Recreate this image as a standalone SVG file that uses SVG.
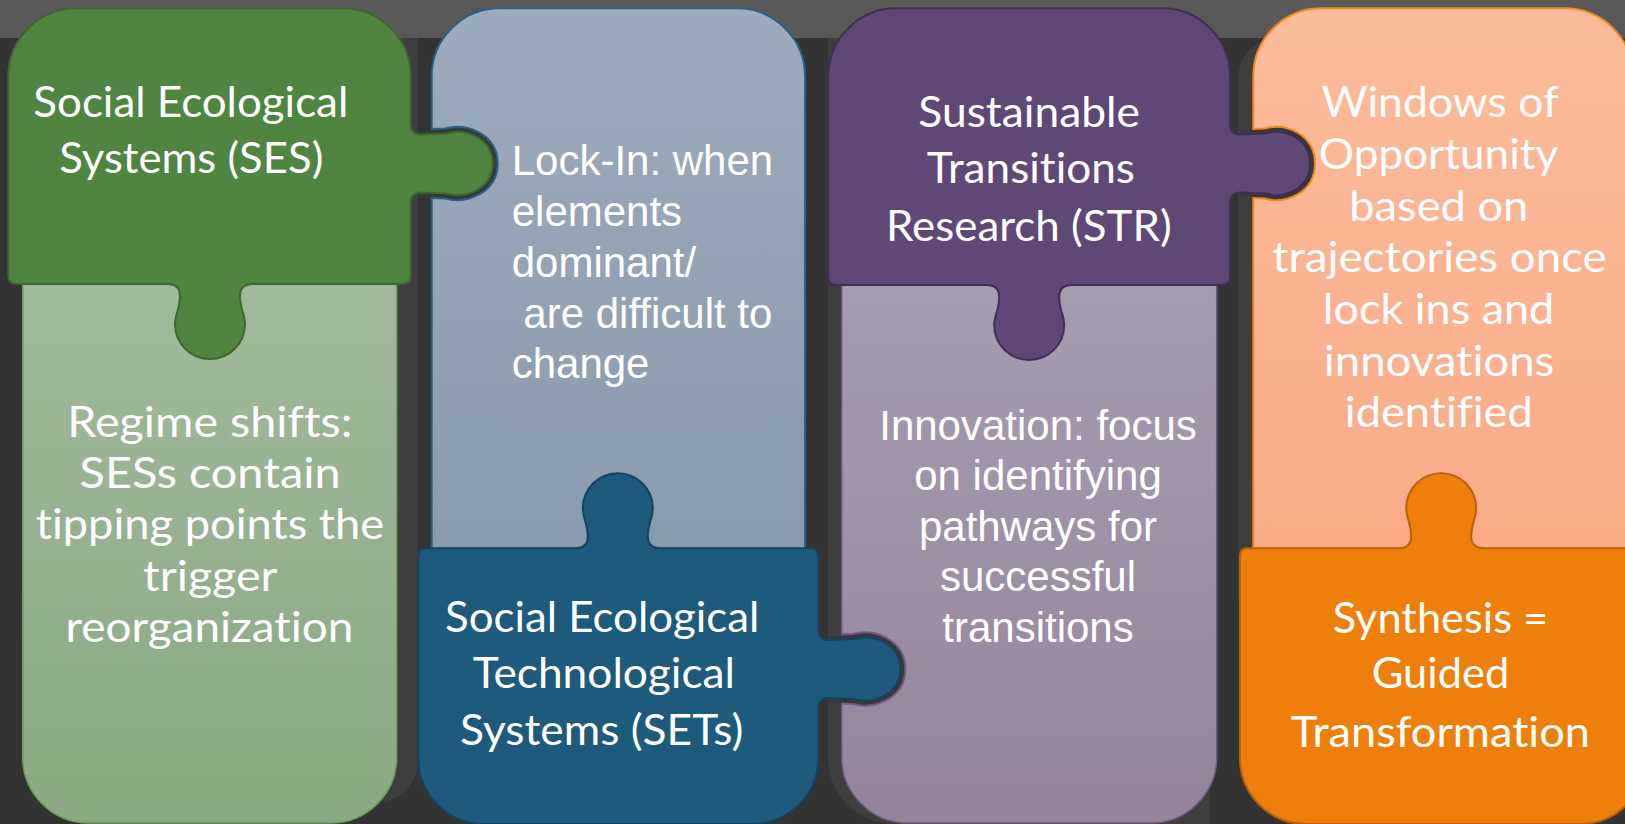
<svg xmlns="http://www.w3.org/2000/svg" width="1625" height="824" viewBox="0 0 1625 824">
<defs>
<linearGradient id="gLightGreen" x1="0" y1="0" x2="0" y2="1"><stop offset="0" stop-color="#a1ba9c"/><stop offset="1" stop-color="#8aa982"/></linearGradient>
<linearGradient id="gLightBlue" x1="0" y1="0" x2="0" y2="1"><stop offset="0" stop-color="#9cabbd"/><stop offset="1" stop-color="#8a9bad"/></linearGradient>
<linearGradient id="gLightPurple" x1="0" y1="0" x2="0" y2="1"><stop offset="0" stop-color="#a69db1"/><stop offset="1" stop-color="#93849c"/></linearGradient>
<linearGradient id="gPeach" x1="0" y1="0" x2="0" y2="1"><stop offset="0" stop-color="#fcbc9c"/><stop offset="1" stop-color="#f9ab87"/></linearGradient>
<clipPath id="clipBlue"><rect x="431.7" y="0" width="380" height="824"/></clipPath>
<clipPath id="clipPeach"><rect x="1253.3" y="0" width="380" height="824"/></clipPath>
<clipPath id="clipPurple"><rect x="841.7" y="0" width="380" height="824"/></clipPath>
</defs>
<style>
text{font-variant-ligatures:none;font-feature-settings:"liga" 0,"clig" 0}
.cal{font-family:Lato,"Liberation Sans",sans-serif;font-size:43px;fill:#ffffff}
.lato{font-family:Lato,"Liberation Sans",sans-serif;font-size:43px;fill:#ffffff}
.arial{font-family:"Liberation Sans",Arial,sans-serif;font-size:42px;fill:#ffffff}
.back{fill:#3e3e3e}
.sock{fill:none;stroke-linejoin:round}
</style>
<rect x="0" y="0" width="1625" height="824" fill="#333333"/>
<g id="backdrops">
<path class="back" d="M 60 38 L 418 38 L 418 762 A 40 40 0 0 1 378 802 L 60 802 Z"/>
<path class="back" d="M 828 38 L 1210 38 L 1210 824 L 894 824 A 66 66 0 0 1 828 758 Z"/>
<path class="back" d="M 1278 38 L 1640 38 L 1640 600 L 1238 600 L 1238 78 A 40 40 0 0 1 1278 38 Z"/>
</g>
<rect x="0" y="0" width="1625" height="38" fill="#595959"/>

<g id="node-lockin">
<path d="M 431.7 556 L 431.7 76.3 A 68 68 0 0 1 499.7 8.3 L 737 8.3 A 68 68 0 0 1 805 76.3 L 805 556 Z" fill="url(#gLightBlue)" stroke="#2a6189" stroke-width="2"/>
<text class="arial" x="511.7" y="175">Lock-In: when</text>
<text class="arial" x="511.7" y="225.8">elements</text>
<text class="arial" x="511.7" y="276.7">dominant/</text>
<text class="arial" x="511.7" y="327.5" xml:space="preserve"> are difficult to</text>
<text class="arial" x="511.7" y="378.3">change</text>
</g>
<g id="node-regime">
<path d="M 22.7 280 L 396.7 280 L 396.7 757 A 66 66 0 0 1 330.7 823 L 88.7 823 A 66 66 0 0 1 22.7 757 Z" fill="url(#gLightGreen)" stroke="#67a055" stroke-width="1.5"/>
<text class="lato" x="67.3" y="436.7" textLength="285" lengthAdjust="spacingAndGlyphs">Regime shifts:</text>
<text class="lato" x="79.5" y="488" textLength="261" lengthAdjust="spacingAndGlyphs">SESs contain</text>
<text class="lato" x="35.7" y="539.2" textLength="348.5" lengthAdjust="spacingAndGlyphs">tipping points the</text>
<text class="lato" x="143" y="590.5" textLength="134.5" lengthAdjust="spacingAndGlyphs">trigger</text>
<text class="lato" x="65.5" y="641.7" textLength="288" lengthAdjust="spacingAndGlyphs">reorganization</text>
</g>
<g id="node-innovation">
<path d="M 841.7 280 L 1216.7 280 L 1216.7 757 A 66 66 0 0 1 1150.7 823 L 907.7 823 A 66 66 0 0 1 841.7 757 Z" fill="url(#gLightPurple)" stroke="#6e5a85" stroke-width="1.5"/>
<text class="arial" x="1038" y="440" text-anchor="middle">Innovation: focus</text>
<text class="arial" x="1038" y="490.4" text-anchor="middle">on identifying</text>
<text class="arial" x="1038" y="540.9" text-anchor="middle">pathways for</text>
<text class="arial" x="1038" y="591.3" text-anchor="middle">successful</text>
<text class="arial" x="1038" y="641.7" text-anchor="middle">transitions</text>
</g>
<g id="node-windows">
<path d="M 1253.3 556 L 1253.3 76.3 A 68 68 0 0 1 1321.3 8.3 L 1565 8.3 A 68 68 0 0 1 1633 76.3 L 1633 556 Z" fill="url(#gPeach)" stroke="#f0891f" stroke-width="2"/>
<text class="lato" x="1321.5" y="117.3" textLength="237" lengthAdjust="spacingAndGlyphs">Windows of</text>
<text class="lato" x="1318.8" y="169" textLength="239.5" lengthAdjust="spacingAndGlyphs">Opportunity</text>
<text class="lato" x="1349.3" y="220.6" textLength="179" lengthAdjust="spacingAndGlyphs">based on</text>
<text class="lato" x="1272.2" y="272.3" textLength="334.5" lengthAdjust="spacingAndGlyphs">trajectories once</text>
<text class="lato" x="1322.8" y="324" textLength="231.5" lengthAdjust="spacingAndGlyphs">lock ins and</text>
<text class="lato" x="1323.8" y="375.6" textLength="230.5" lengthAdjust="spacingAndGlyphs">innovations</text>
<text class="lato" x="1344.8" y="427.3" textLength="188" lengthAdjust="spacingAndGlyphs">identified</text>
</g>

<g id="connectors">
<path class="sock" clip-path="url(#clipBlue)" stroke="#2a6189" stroke-width="12" d="M 420.7 134.5 L 445.7 133.5 C 465.7 127.5 492.7 138.5 492.7 163.5 C 492.7 188.5 465.7 199.5 445.7 193.5 L 420.7 192.5"/>
<path class="sock" stroke="#383838" stroke-width="8" d="M 420.7 134.5 L 445.7 133.5 C 465.7 127.5 492.7 138.5 492.7 163.5 C 492.7 188.5 465.7 199.5 445.7 193.5 L 420.7 192.5"/>
<path class="sock" clip-path="url(#clipPeach)" stroke="#f0891f" stroke-width="12" d="M 1240 134.5 L 1265 133.5 C 1285 127.5 1310 138.5 1310 163.5 C 1310 188.5 1285 199.5 1265 193.5 L 1240 192.5"/>
<path class="sock" stroke="#383838" stroke-width="8" d="M 1240 134.5 L 1265 133.5 C 1285 127.5 1310 138.5 1310 163.5 C 1310 188.5 1285 199.5 1265 193.5 L 1240 192.5"/>
<path class="sock" clip-path="url(#clipPurple)" stroke="#6e5a85" stroke-width="12" d="M 828.3 640 L 853.3 639 C 873.3 633 900.3 644 900.3 669 C 900.3 694 873.3 705 853.3 699 L 828.3 698"/>
<path class="sock" stroke="#383838" stroke-width="8" d="M 828.3 640 L 853.3 639 C 873.3 633 900.3 644 900.3 669 C 900.3 694 873.3 705 853.3 699 L 828.3 698"/>
</g>

<g id="node-ses">
<path d="M 8.3 76.3 A 68 68 0 0 1 76.3 8.3 L 342.7 8.3 A 68 68 0 0 1 410.7 76.3 L 410.7 123.5 Q 410.7 134.5 420.7 134.5 L 445.7 133.5 C 465.7 127.5 492.7 138.5 492.7 163.5 C 492.7 188.5 465.7 199.5 445.7 193.5 L 420.7 192.5 Q 410.7 192.5 410.7 203.5 L 410.7 276 Q 410.7 284 402.7 284 L 253 284 Q 240 284 240 296 C 240 309 245 314 245 324 A 35 35 0 0 1 175 324 C 175 314 180 309 180 296 Q 180 284 167 284 L 16.3 284 Q 8.3 284 8.3 276 Z" fill="#4f8541" stroke="#3a682e" stroke-width="2"/>
<text class="cal" x="33.3" y="117" textLength="315" lengthAdjust="spacingAndGlyphs">Social Ecological</text>
<text class="cal" x="59.3" y="173.3" textLength="264" lengthAdjust="spacingAndGlyphs">Systems (SES)</text>
</g>
<g id="node-str">
<path d="M 828.3 76.3 A 68 68 0 0 1 896.3 8.3 L 1162 8.3 A 68 68 0 0 1 1230 76.3 L 1230 123.5 Q 1230 134.5 1240 134.5 L 1265 133.5 C 1285 127.5 1310 138.5 1310 163.5 C 1310 188.5 1285 199.5 1265 193.5 L 1240 192.5 Q 1230 192.5 1230 203.5 L 1230 277 Q 1230 285 1222 285 L 1072.2 285 Q 1059.2 285 1059.2 297 C 1059.2 310 1064.2 315 1064.2 325 A 35 35 0 0 1 994.2 325 C 994.2 315 999.2 310 999.2 297 Q 999.2 285 986.2 285 L 836.3 285 Q 828.3 285 828.3 277 Z" fill="#5f4876" stroke="#3f2f53" stroke-width="2"/>
<text class="cal" x="918.3" y="126.7" textLength="221.7" lengthAdjust="spacingAndGlyphs">Sustainable</text>
<text class="cal" x="926.7" y="182.7" textLength="208.3" lengthAdjust="spacingAndGlyphs">Transitions</text>
<text class="cal" x="886" y="240.7" textLength="285.7" lengthAdjust="spacingAndGlyphs">Research (STR)</text>
</g>
<g id="node-sets">
<path d="M 418.3 556.3 Q 418.3 548.3 426.3 548.3 L 574.8 548.3 Q 587.8 548.3 587.8 536.3 C 587.8 523.3 582.8 518.3 582.8 508.3 A 35 35 0 0 1 652.8 508.3 C 652.8 518.3 647.8 523.3 647.8 536.3 Q 647.8 548.3 660.8 548.3 L 810.3 548.3 Q 818.3 548.3 818.3 556.3 L 818.3 629 Q 818.3 640 828.3 640 L 853.3 639 C 873.3 633 900.3 644 900.3 669 C 900.3 694 873.3 705 853.3 699 L 828.3 698 Q 818.3 698 818.3 709 L 818.3 758 A 66 66 0 0 1 752.3 824 L 484.3 824 A 66 66 0 0 1 418.3 758 Z" fill="#1d5a7c" stroke="#16435e" stroke-width="2"/>
<text class="cal" x="445" y="631.7" textLength="314.3" lengthAdjust="spacingAndGlyphs">Social Ecological</text>
<text class="cal" x="472.7" y="688.3" textLength="262.3" lengthAdjust="spacingAndGlyphs">Technological</text>
<text class="cal" x="460" y="745" textLength="283.3" lengthAdjust="spacingAndGlyphs">Systems (SETs)</text>
</g>
<g id="node-synthesis">
<path d="M 1240 556.3 Q 1240 548.3 1248 548.3 L 1398.2 548.3 Q 1411.2 548.3 1411.2 536.3 C 1411.2 523.3 1406.2 518.3 1406.2 508.3 A 35 35 0 0 1 1476.2 508.3 C 1476.2 518.3 1471.2 523.3 1471.2 536.3 Q 1471.2 548.3 1484.2 548.3 L 1638 548.3 Q 1646 548.3 1646 556.3 L 1646 758 A 66 66 0 0 1 1580 824 L 1306 824 A 66 66 0 0 1 1240 758 Z" fill="#ef7f0b" stroke="#b8600f" stroke-width="2"/>
<text class="cal" x="1332.7" y="633.3" textLength="215.6" lengthAdjust="spacingAndGlyphs">Synthesis =</text>
<text class="cal" x="1371.7" y="688.3" textLength="137.6" lengthAdjust="spacingAndGlyphs">Guided</text>
<text class="cal" x="1290.7" y="747.3" textLength="299.3" lengthAdjust="spacingAndGlyphs">Transformation</text>
</g>
</svg>
